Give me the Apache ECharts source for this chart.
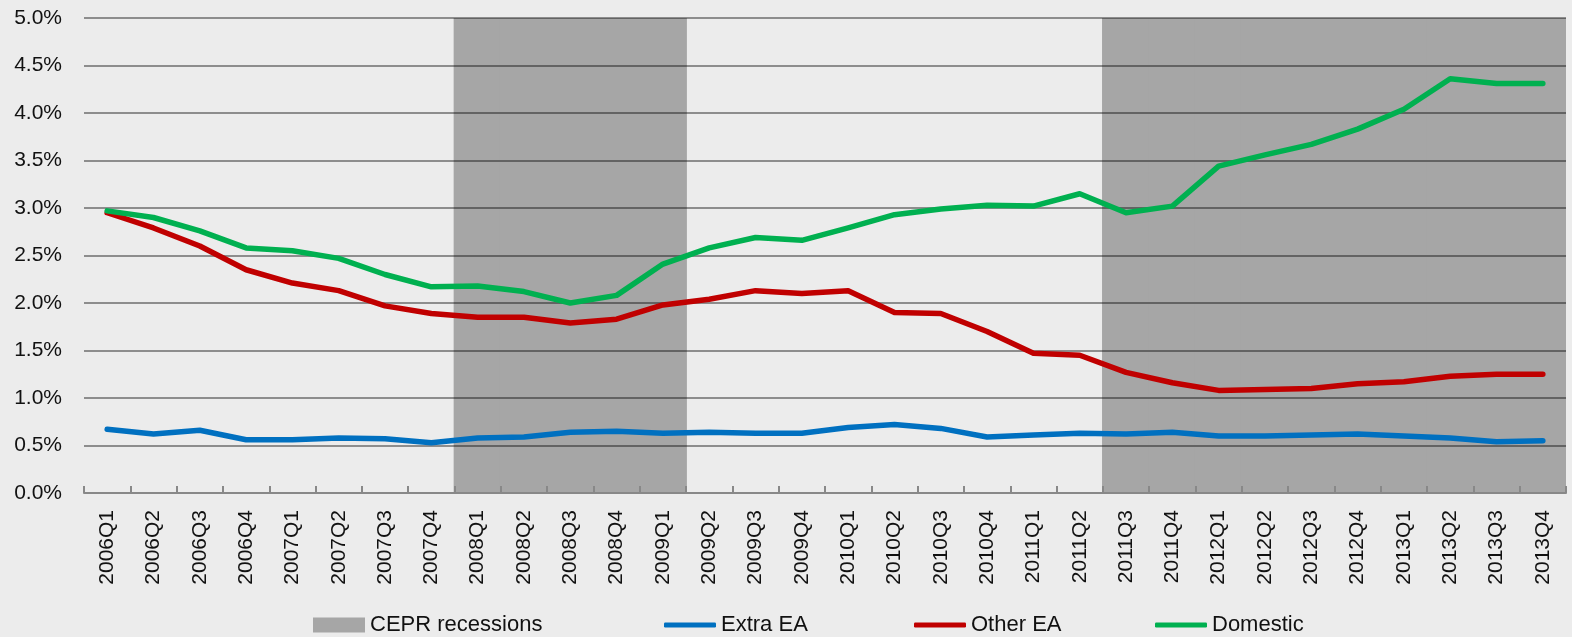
<!DOCTYPE html>
<html>
<head>
<meta charset="utf-8">
<script src="https://cdn.jsdelivr.net/npm/echarts@6/dist/echarts.min.js"></script>
<style>
  html, body { margin: 0; padding: 0; background: #ececec; }
  #chart { width: 1572px; height: 637px; }
</style>
</head>
<body>
<div id="chart"></div>
<script>
// Quarterly categories
const quarters = [
  '2006Q1','2006Q2','2006Q3','2006Q4','2007Q1','2007Q2','2007Q3','2007Q4',
  '2008Q1','2008Q2','2008Q3','2008Q4','2009Q1','2009Q2','2009Q3','2009Q4',
  '2010Q1','2010Q2','2010Q3','2010Q4','2011Q1','2011Q2','2011Q3','2011Q4',
  '2012Q1','2012Q2','2012Q3','2012Q4','2013Q1','2013Q2','2013Q3','2013Q4'
];

// CEPR recession quarters, shaded over the full axis height (5.0%)
const recessions = [
  null, null, null, null, null, null, null, null,
  5, 5, 5, 5, 5, null, null, null,
  null, null, null, null, null, null, 5, 5,
  5, 5, 5, 5, 5, 5, 5, 5
];

// Shares, in percent
const extraEA = [
  0.67, 0.62, 0.66, 0.56, 0.56, 0.58, 0.57, 0.53,
  0.58, 0.59, 0.64, 0.65, 0.63, 0.64, 0.63, 0.63,
  0.69, 0.72, 0.68, 0.59, 0.61, 0.63, 0.62, 0.64,
  0.60, 0.60, 0.61, 0.62, 0.60, 0.58, 0.54, 0.55
];
const otherEA = [
  2.95, 2.79, 2.60, 2.35, 2.21, 2.13, 1.97, 1.89,
  1.85, 1.85, 1.79, 1.83, 1.98, 2.04, 2.13, 2.10,
  2.13, 1.90, 1.89, 1.70, 1.47, 1.45, 1.27, 1.16,
  1.08, 1.09, 1.10, 1.15, 1.17, 1.23, 1.25, 1.25
];
const domestic = [
  2.97, 2.90, 2.76, 2.58, 2.55, 2.47, 2.30, 2.17,
  2.18, 2.12, 2.00, 2.08, 2.41, 2.58, 2.69, 2.66,
  2.79, 2.93, 2.99, 3.03, 3.02, 3.15, 2.95, 3.02,
  3.44, 3.56, 3.67, 3.83, 4.04, 4.36, 4.31, 4.31
];

const FONT = 'Liberation Sans';
const TEXT = '#111';
const GRID = 'rgba(0,0,0,0.4)';
const BAND = '#a6a6a6';

const chart = echarts.init(document.getElementById('chart'), null, { renderer: 'canvas' });

// One legend per entry so each sits at its own horizontal slot
function legendAt(name, left, icon, h) {
  return {
    data: [name],
    left: left,
    top: 614,
    padding: 0,
    icon: icon,
    itemWidth: 52,
    itemHeight: h,
    itemGap: 0,
    selectedMode: false,
    textStyle: { fontFamily: FONT, fontSize: 22, color: TEXT }
  };
}

chart.setOption({
  backgroundColor: '#ececec',
  animation: false,
  grid: { left: 84, right: 6, top: 18, bottom: 144, containLabel: false },
  legend: [
    legendAt('CEPR recessions', 313, 'rect', 15),
    legendAt('Extra EA', 664, 'roundRect', 5),
    legendAt('Other EA', 914, 'roundRect', 5),
    legendAt('Domestic', 1155, 'roundRect', 5)
  ],
  xAxis: {
    type: 'category',
    data: quarters,
    boundaryGap: true,
    z: 1,
    axisLine: { show: true, lineStyle: { color: '#888', width: 2 } },
    axisTick: { show: true, inside: true, length: 7, lineStyle: { color: '#888', width: 2 } },
    axisLabel: {
      rotate: 90, interval: 0, margin: 17,
      fontFamily: FONT, fontSize: 21, color: TEXT
    },
    splitLine: { show: false }
  },
  yAxis: {
    type: 'value',
    min: 0, max: 5, interval: 0.5,
    z: 1,
    axisLine: { show: false },
    axisTick: { show: false },
    axisLabel: {
      margin: 22,
      fontFamily: FONT, fontSize: 21, color: TEXT,
      formatter: v => v.toFixed(1) + '%'
    },
    splitLine: { show: true, lineStyle: { color: GRID, width: 2 } }
  },
  series: [
    {
      name: 'CEPR recessions',
      type: 'bar',
      data: recessions,
      // slightly wider than a category so neighbouring bars overlap with no seams
      barWidth: 48,
      barCategoryGap: '0%',
      z: 0,
      itemStyle: { color: BAND },
      silent: true
    },
    {
      name: 'Extra EA', type: 'line', data: extraEA, z: 3,
      symbol: 'none', smooth: false,
      itemStyle: { color: '#0070c0' },
      lineStyle: { color: '#0070c0', width: 5.5, cap: 'round', join: 'round' }
    },
    {
      name: 'Other EA', type: 'line', data: otherEA, z: 3,
      symbol: 'none', smooth: false,
      itemStyle: { color: '#c00000' },
      lineStyle: { color: '#c00000', width: 5.5, cap: 'round', join: 'round' }
    },
    {
      name: 'Domestic', type: 'line', data: domestic, z: 3,
      symbol: 'none', smooth: false,
      itemStyle: { color: '#00b050' },
      lineStyle: { color: '#00b050', width: 5.5, cap: 'round', join: 'round' }
    }
  ]
});
</script>
</body>
</html>
